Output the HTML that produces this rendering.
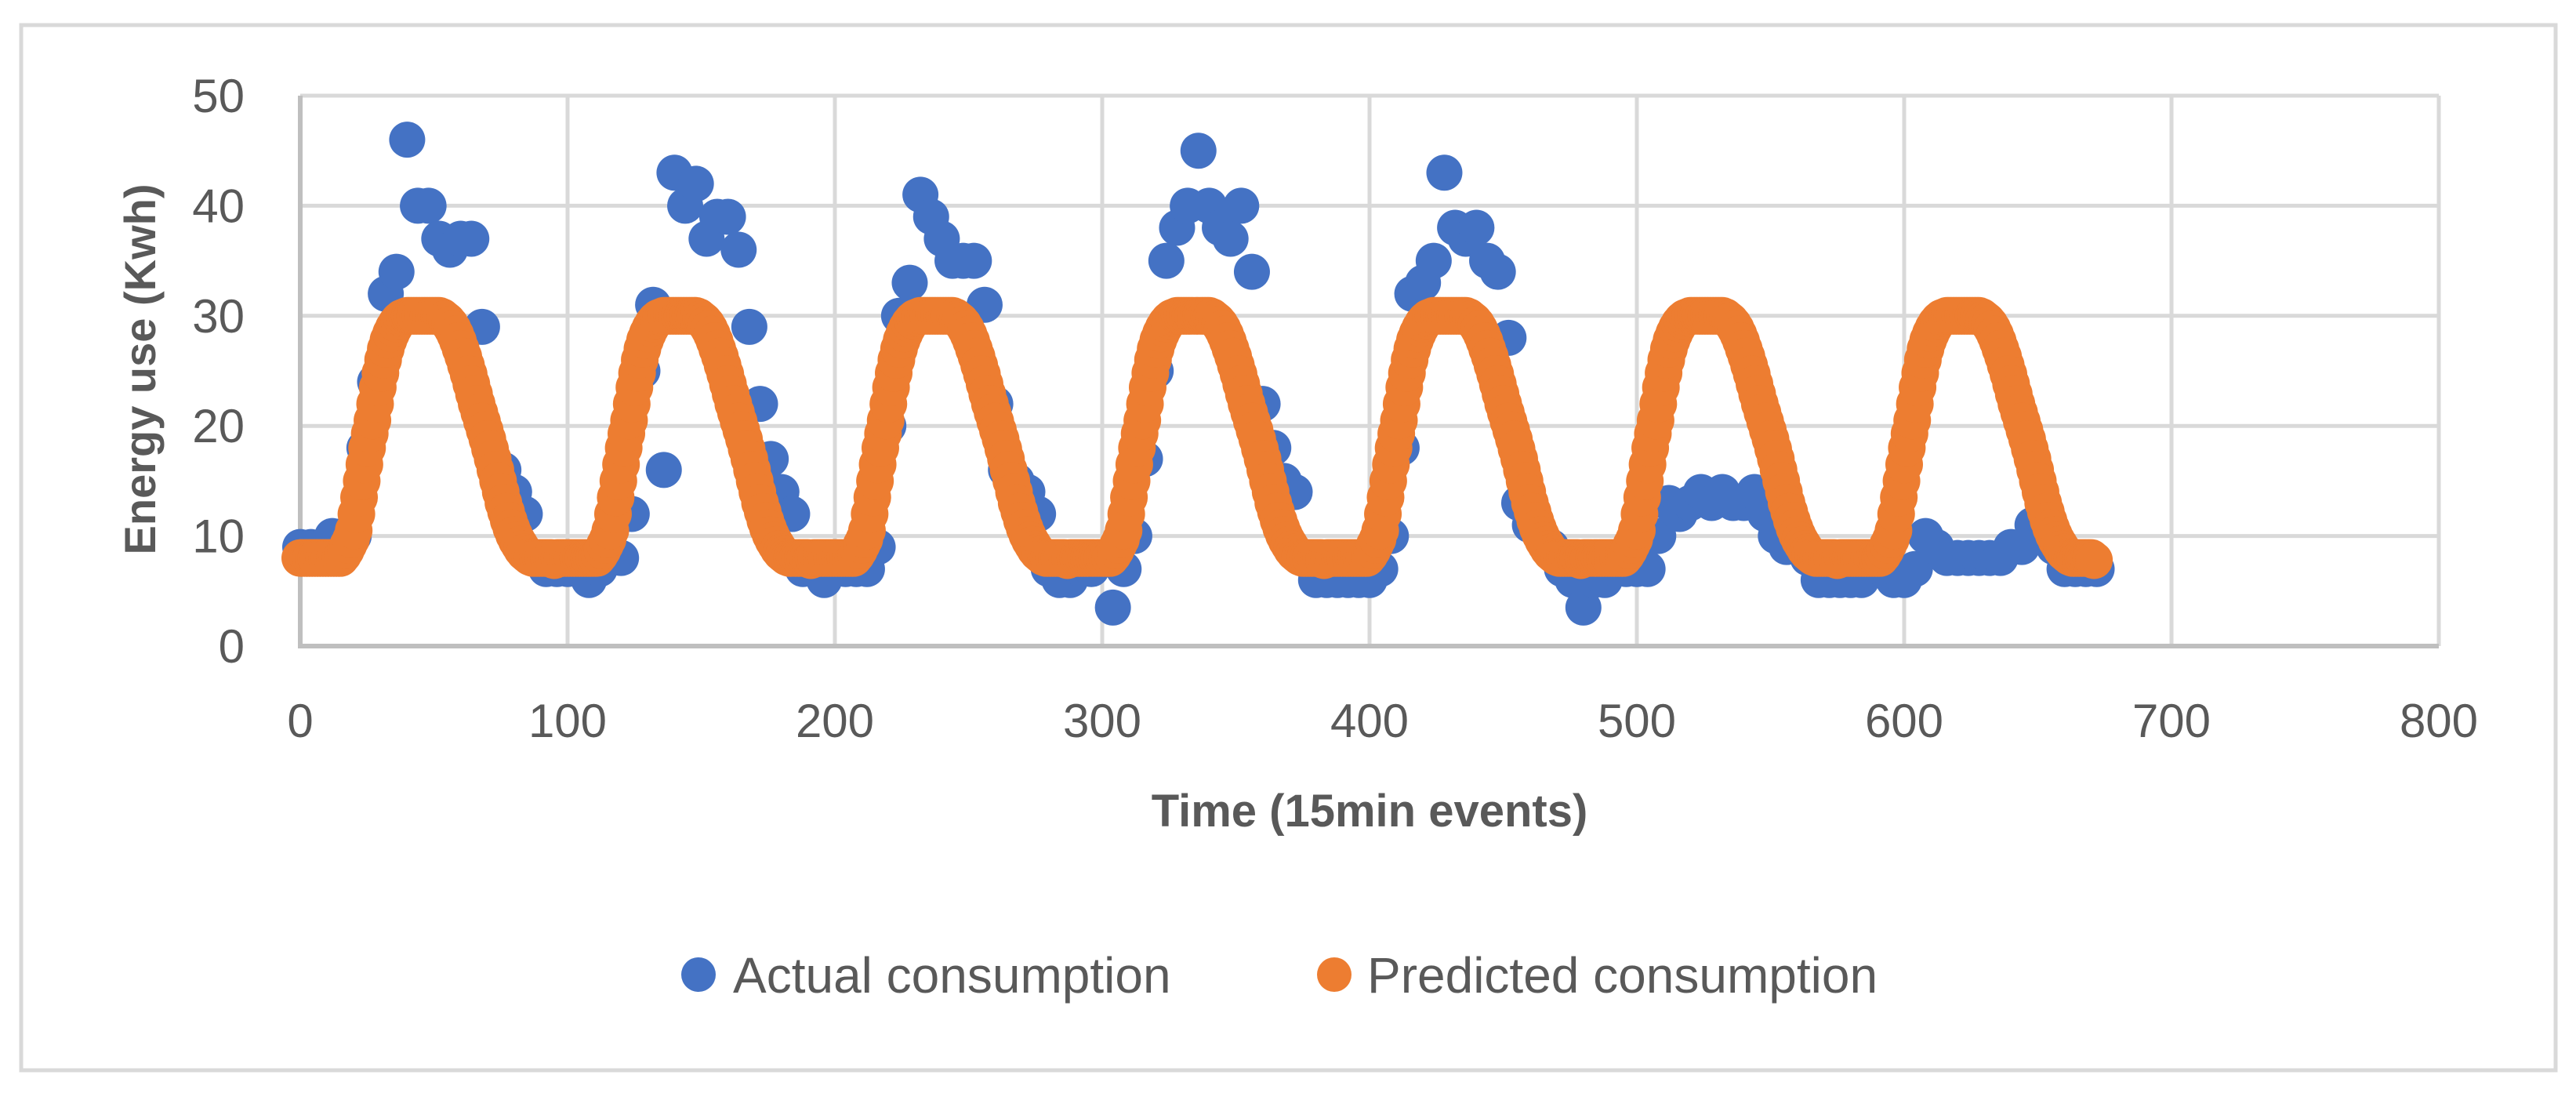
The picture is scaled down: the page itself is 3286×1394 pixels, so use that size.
<!DOCTYPE html>
<html><head><meta charset="utf-8"><style>
html,body{margin:0;padding:0;background:#fff;}
svg{display:block;font-family:"Liberation Sans",sans-serif;}
</style></head><body>
<svg id="chart" width="3286" height="1394" viewBox="0 0 3286 1394" xmlns="http://www.w3.org/2000/svg">
<rect x="27" y="32" width="3233" height="1333" fill="#fff" stroke="#d9d9d9" stroke-width="5"/>
<g id="grid"></g><g id="ticks"></g><g id="actual"></g><g id="pred"></g>
<text x="0" y="0" transform="translate(198,471) rotate(-90)" text-anchor="middle" font-size="56" font-weight="bold" fill="#595959">Energy use (Kwh)</text>
<text x="1747" y="1054" text-anchor="middle" font-size="58" font-weight="bold" fill="#595959">Time (15min events)</text>
<g>
<circle cx="891" cy="1243" r="22" fill="#4472C4"/>
<text x="935" y="1266" font-size="64" fill="#595959">Actual consumption</text>
<circle cx="1702" cy="1243" r="22" fill="#ED7D31"/>
<text x="1744" y="1266" font-size="64" fill="#595959">Predicted consumption</text>
</g>
</svg>
<script>
const xTicks=[0,100,200,300,400,500,600,700,800];
const yTicks=[0,10,20,30,40,50];
const actualStep=4;
const actual=[
9,9,9,10,10,10,18,24,32,34,46,40,40,37,36,37,37,29,17,16,14,12,8,7,
7,7,7,6,7,8,8,12,25,31,16,43,40,42,37,39,39,36,29,22,17,14,12,7,
7,6,7,7,7,7,9,20,30,33,41,39,37,35,35,35,31,22,16,15,14,12,7,6,
6,7,7,8,3.5,7,10,17,25,35,38,40,45,40,38,37,40,34,22,18,15,14,8,6,
6,6,6,6,6,7,10,18,32,33,35,43,38,37,38,35,34,28,13,11,10,9,7,6,
3.5,6,6,7,7,7,7,10,13,12,13,14,13,14,13,13,14,12,10,9,9,8,6,6,
6,6,6,7,7,6,6,7,10,9,8,8,8,8,8,8,9,9,11,10,9,7,7,7,7];
const predictedDay=[8,8,8,8,8,8,8,8,8,8,8,8,8,8,8,8,
8.3,8.7,9.2,9.7,10.5,12,13.5,15,16.5,18,19.3,20.5,22,23.5,24.8,26,27,27.8,28.4,28.9,29.3,29.6,29.8,29.9,
30,30,30,30,30,30,30,30,30,30,30,30,30,
29.9,29.7,29.5,29.2,28.8,28.3,27.7,27,26.3,25.5,24.7,23.8,22.9,22,21.2,20.4,19.6,18.8,17.9,17,16,15,14,13,12.2,11.4,10.7,10.1,9.6,9.2,8.8,8.5,8.3,8.1,
8,8,8,8,8,8,8,8,7.8];
const days=[0,1,2,3,4,5,6];

const X0=383,X1=3111,Y0=824,Y1=122;
const xs=v=>X0+(v-0)/(800-0)*(X1-X0);
const ys=v=>Y0-(v-0)/(50-0)*(Y0-Y1);
const NS="http://www.w3.org/2000/svg";
function mk(tag,attrs,parent){const e=document.createElementNS(NS,tag);for(const k in attrs)e.setAttribute(k,attrs[k]);parent.appendChild(e);return e;}
const grid=document.getElementById('grid'),ticks=document.getElementById('ticks');
yTicks.forEach(t=>{
  if(t>0){const l=mk('line',{x1:X0,x2:X1,y1:ys(t),y2:ys(t),stroke:'#d9d9d9','stroke-width':5},grid);
  
  }
  const tx=mk('text',{x:312,y:ys(t)+21,'text-anchor':'end','font-size':60,fill:'#595959'},ticks);
  tx.textContent=t;
  
  
});
xTicks.forEach(t=>{
  if(t>0){const l=mk('line',{x1:xs(t),x2:xs(t),y1:Y1,y2:Y0,stroke:'#d9d9d9','stroke-width':5},grid);
  
  }
  const tx=mk('text',{x:xs(t),y:940,'text-anchor':'middle','font-size':60,fill:'#595959'},ticks);
  tx.textContent=t;
  
  
});
const ya=mk('line',{x1:X0,x2:X0,y1:Y1,y2:Y0+2,stroke:'#bfbfbf','stroke-width':6},grid);


const xa=mk('line',{x1:X0-3,x2:X1,y1:Y0,y2:Y0,stroke:'#bfbfbf','stroke-width':6},grid);


const ga=document.getElementById('actual');


actual.forEach((v,i)=>{
  const c=mk('circle',{cx:xs(i*actualStep),cy:ys(v),r:23,fill:'#4472C4'},ga);
  
  
});
const gp=document.getElementById('pred');


days.forEach(d=>{
  predictedDay.forEach((v,i)=>{
    const c=mk('circle',{cx:xs(d*predictedDay.length+i),cy:ys(v),r:24,fill:'#ED7D31'},gp);
    
    
  });
});
</script>
</body></html>
